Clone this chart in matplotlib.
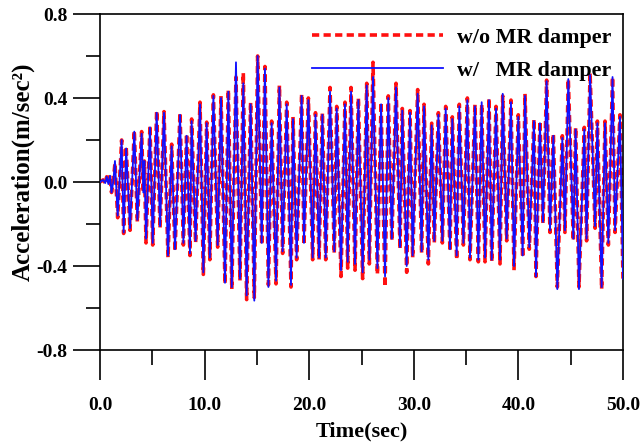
import matplotlib
matplotlib.use("Agg")
import matplotlib.pyplot as plt
from matplotlib.ticker import MultipleLocator, FormatStrFormatter

# Turning points of the acceleration records (time in s, acceleration in m/s^2)
time_sec = [0.0, 0.3, 0.5, 0.64, 0.8, 0.96, 1.1, 1.27, 1.43, 1.69,
            2.07, 2.26, 2.5, 2.87, 3.28, 3.57, 3.98, 4.14, 4.24, 4.4,
            4.78, 5.04, 5.42, 5.74, 6.12, 6.5, 6.85, 7.17, 7.65, 7.97,
            8.28, 8.6, 8.76, 9.14, 9.56, 9.88, 10.2, 10.5, 10.84, 11.25,
            11.57, 11.95, 12.27, 12.6, 13.0, 13.38, 13.7, 14.02, 14.4, 14.75,
            15.07, 15.46, 15.77, 16.1, 16.41, 16.83, 17.15, 17.46, 17.85, 18.26,
            18.45, 18.8, 19.28, 19.5, 19.92, 20.33, 20.6, 20.94, 21.26, 21.58,
            21.99, 22.4, 22.63, 23.04, 23.42, 23.68, 24.0, 24.38, 24.7, 25.11,
            25.5, 25.75, 26.1, 26.52, 26.87, 27.25, 27.56, 27.9, 28.3, 28.68,
            28.9, 29.32, 29.64, 29.89, 30.37, 30.75, 30.98, 31.39, 31.71, 31.96,
            32.35, 32.73, 33.05, 33.46, 33.68, 34.1, 34.35, 34.74, 35.12, 35.37,
            35.85, 36.17, 36.49, 36.81, 37.19, 37.45, 37.86, 38.24, 38.5, 38.88,
            39.29, 39.58, 39.99, 40.41, 40.63, 41.04, 41.49, 41.68, 42.06, 42.35,
            42.7, 43.02, 43.34, 43.72, 44.2, 44.45, 44.77, 45.25, 45.47, 45.79,
            46.3, 46.52, 46.85, 47.33, 47.55, 47.96, 48.28, 48.6, 49.0, 49.24,
            49.71, 50.0]

accel_without = [0.0, 0.01, -0.005, 0.025, -0.01, 0.033, -0.05, 0.0, 0.09, -0.17,
                 0.2, -0.245, 0.17, -0.23, 0.245, -0.19, 0.24, -0.05, 0.1, -0.29,
                 0.27, -0.3, 0.34, -0.22, 0.335, -0.36, 0.18, -0.33, 0.33, -0.3,
                 0.23, -0.35, 0.3, -0.29, 0.38, -0.44, 0.285, -0.37, 0.415, -0.31,
                 0.41, -0.485, 0.44, -0.51, 0.5, -0.47, 0.52, -0.56, 0.38, -0.55,
                 0.6, -0.3, 0.55, -0.49, 0.29, -0.485, 0.46, -0.34, 0.38, -0.5,
                 0.31, -0.37, 0.42, -0.3, 0.4, -0.37, 0.33, -0.37, 0.33, -0.37,
                 0.45, -0.34, 0.36, -0.45, 0.38, -0.41, 0.45, -0.42, 0.4, -0.46,
                 0.47, -0.39, 0.57, -0.44, 0.38, -0.5, 0.41, -0.28, 0.47, -0.32,
                 0.35, -0.43, 0.34, -0.36, 0.44, -0.34, 0.37, -0.39, 0.28, -0.29,
                 0.33, -0.29, 0.36, -0.33, 0.31, -0.37, 0.37, -0.3, 0.4, -0.37,
                 0.37, -0.38, 0.37, -0.38, 0.4, -0.38, 0.36, -0.39, 0.41, -0.28,
                 0.39, -0.42, 0.32, -0.36, 0.42, -0.32, 0.3, -0.45, 0.29, -0.2,
                 0.485, -0.24, 0.23, -0.5, 0.22, -0.24, 0.49, -0.28, 0.26, -0.5,
                 0.26, -0.28, 0.52, -0.22, 0.29, -0.51, 0.29, -0.3, 0.5, -0.24,
                 0.32, -0.46]

accel_with = [0.0, 0.01, -0.005, 0.025, -0.01, 0.03, -0.05, 0.0, 0.1, -0.16,
              0.2, -0.24, 0.16, -0.22, 0.24, -0.18, 0.23, -0.05, 0.1, -0.27,
              0.26, -0.29, 0.33, -0.21, 0.33, -0.35, 0.17, -0.32, 0.32, -0.29,
              0.22, -0.34, 0.29, -0.28, 0.37, -0.43, 0.28, -0.36, 0.41, -0.3,
              0.4, -0.48, 0.43, -0.5, 0.57, -0.46, 0.47, -0.54, 0.37, -0.565,
              0.6, -0.29, 0.54, -0.5, 0.28, -0.47, 0.45, -0.33, 0.37, -0.49,
              0.3, -0.36, 0.41, -0.29, 0.39, -0.36, 0.32, -0.36, 0.32, -0.36,
              0.43, -0.33, 0.35, -0.42, 0.37, -0.38, 0.43, -0.39, 0.39, -0.43,
              0.46, -0.37, 0.5, -0.41, 0.37, -0.45, 0.4, -0.27, 0.45, -0.31,
              0.34, -0.4, 0.33, -0.35, 0.42, -0.33, 0.36, -0.37, 0.27, -0.28,
              0.32, -0.28, 0.35, -0.32, 0.3, -0.35, 0.36, -0.29, 0.39, -0.36,
              0.36, -0.37, 0.38, -0.36, 0.39, -0.37, 0.35, -0.37, 0.42, -0.27,
              0.38, -0.4, 0.31, -0.35, 0.41, -0.31, 0.29, -0.45, 0.28, -0.19,
              0.48, -0.23, 0.22, -0.51, 0.21, -0.23, 0.49, -0.27, 0.25, -0.51,
              0.25, -0.27, 0.51, -0.21, 0.28, -0.5, 0.28, -0.29, 0.5, -0.23,
              0.31, -0.46]

x_ticks = [0, 10, 20, 30, 40, 50]
y_ticks = [-0.8, -0.4, 0.0, 0.4, 0.8]
legend_labels = ["w/o MR damper", "w/   MR damper"]

serif = ["Liberation Serif", "DejaVu Serif"]
plt.rcParams["font.family"] = serif
plt.rcParams["font.weight"] = "bold"

fig = plt.figure(figsize=(6.41, 4.44), dpi=100)
ax = fig.add_axes([100 / 641, 1 - 350 / 444, 523 / 641, 336 / 444])

l1, = ax.plot(time_sec, accel_without, color="#ff1010", lw=2.6,
              linestyle=(0, (2.0, 1.2)), zorder=2)
l2, = ax.plot(time_sec, accel_with, color="#1010ff", lw=1.3, zorder=3)

ax.set_xlim(0, 50)
ax.set_ylim(-0.8, 0.8)
ax.set_xticks(x_ticks)
ax.set_yticks(y_ticks)
ax.xaxis.set_minor_locator(MultipleLocator(5))
ax.yaxis.set_minor_locator(MultipleLocator(0.2))
ax.xaxis.set_major_formatter(FormatStrFormatter("%.1f"))
ax.yaxis.set_major_formatter(FormatStrFormatter("%.1f"))

ax.tick_params(axis="x", which="major", direction="out", length=21.5, width=1.2,
               pad=12, labelsize=14)
ax.tick_params(axis="x", which="minor", direction="out", length=10.8, width=1.2)
ax.tick_params(axis="y", which="major", direction="out", length=19.4, width=1.2,
               pad=4, labelsize=14)
ax.tick_params(axis="y", which="minor", direction="out", length=10, width=1.2)
for lab in ax.get_xticklabels() + ax.get_yticklabels():
    lab.set_fontweight("bold")
for sp in ax.spines.values():
    sp.set_linewidth(1.2)

ax.set_xlabel("Time(sec)", fontsize=16, fontweight="bold", labelpad=6)
ax.set_ylabel("Acceleration(m/sec²)", fontsize=18,
              fontweight="bold", labelpad=1)
ax.yaxis.label.set_y(0.53)

leg = ax.legend([l1, l2], legend_labels, loc="upper right", frameon=False,
                fontsize=15.8, handlelength=6.0, handletextpad=0.6,
                labelspacing=0.6, borderaxespad=0.2,
                bbox_to_anchor=(1.002, 1.0))
for t in leg.get_texts():
    t.set_fontweight("bold")

fig.savefig("out.png", dpi=100)
